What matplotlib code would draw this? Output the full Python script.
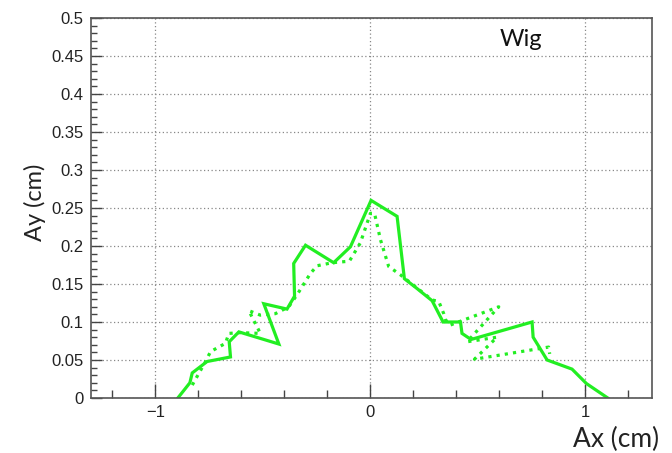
import matplotlib.pyplot as plt
from matplotlib.ticker import MultipleLocator, FixedLocator

# solid curve
solid_x = [-0.896, -0.840, -0.829, -0.760, -0.651, -0.657, -0.612, -0.426, -0.496, -0.388,
           -0.353, -0.357, -0.302, -0.171, -0.093, 0.003, 0.124, 0.158, 0.217, 0.287,
           0.338, 0.419, 0.426, 0.468, 0.752, 0.757, 0.822, 0.938, 1.005, 1.104]
solid_y = [0.0, 0.020, 0.033, 0.048, 0.054, 0.074, 0.087, 0.071, 0.124, 0.117,
           0.134, 0.177, 0.201, 0.178, 0.199, 0.260, 0.239, 0.157, 0.144, 0.128,
           0.100, 0.100, 0.085, 0.077, 0.100, 0.080, 0.050, 0.038, 0.019, 0.0]

# dotted curve
dot_x = [-0.829, -0.767, -0.744, -0.674, -0.659, -0.605, -0.512, -0.566, -0.512, -0.442,
         -0.380, -0.341, -0.279, -0.248, -0.178, -0.098, -0.047, 0.0, 0.019, 0.047,
         0.085, 0.140, 0.287, 0.318, 0.341, 0.349, 0.372, 0.597, 0.450, 0.589,
         0.484, 0.829, 0.834]
dot_y = [0.017, 0.048, 0.061, 0.072, 0.085, 0.086, 0.085, 0.115, 0.109, 0.111,
         0.120, 0.136, 0.164, 0.174, 0.178, 0.180, 0.204, 0.243, 0.243, 0.208,
         0.173, 0.162, 0.129, 0.127, 0.111, 0.103, 0.096, 0.120, 0.074, 0.080,
         0.051, 0.067, 0.058]

yticks = [0, 0.05, 0.1, 0.15, 0.2, 0.25, 0.3, 0.35, 0.4, 0.45, 0.5]
ytick_labels = ['0', '0.05', '0.1', '0.15', '0.2', '0.25', '0.3', '0.35', '0.4', '0.45', '0.5']
xticks = [-1, 0, 1]
xtick_labels = ['\u22121', '0', '1']

green = '#22ee22'

fig = plt.figure(figsize=(6.72, 4.53), dpi=100)
ax = fig.add_axes([91 / 672, 55 / 453, 561 / 672, 380 / 453])

ax.plot(solid_x, solid_y, color=green, lw=2.3, solid_joinstyle='miter')
ax.plot(dot_x, dot_y, color=green, lw=2.3, linestyle=(0, (1, 1.6)))

ax.set_xlim(-1.3, 1.31)
ax.set_ylim(0, 0.5)

ax.yaxis.set_major_locator(FixedLocator(yticks))
ax.set_yticklabels(ytick_labels)
ax.yaxis.set_minor_locator(MultipleLocator(0.01))
ax.xaxis.set_major_locator(FixedLocator(xticks))
ax.set_xticklabels(xtick_labels)
ax.xaxis.set_minor_locator(MultipleLocator(0.2))

ax.grid(True, which='major', color='#888888', linestyle=(0, (1, 2)), lw=0.9)
ax.set_axisbelow(True)

ax.tick_params(which='both', direction='in', colors='#444444', labelcolor='#222222',
               labelsize=12, width=1)
ax.tick_params(axis='y', which='major', length=8, pad=5.5)
ax.tick_params(axis='y', which='minor', length=4)
ax.tick_params(axis='x', which='major', length=10, pad=5)
ax.tick_params(axis='x', which='minor', length=6)
for lab in ax.get_xticklabels() + ax.get_yticklabels():
    lab.set_family('Liberation Sans')

for s in ax.spines.values():
    s.set_color('#555555')
    s.set_linewidth(1.2)

fig.text(35 / 672, 1 - 202 / 453, 'Ay (cm)', rotation=90, ha='center', va='center',
         fontsize=17, family='Lato', color='#222222')
fig.text(659 / 672, 1 - 439 / 453, 'Ax (cm)', ha='right', va='center',
         fontsize=19, family='Lato', color='#222222')
fig.text(500 / 672, 1 - 40 / 453, 'Wig', ha='left', va='center',
         fontsize=17, family='Lato', color='#111111')

fig.savefig('out.png', dpi=100)
